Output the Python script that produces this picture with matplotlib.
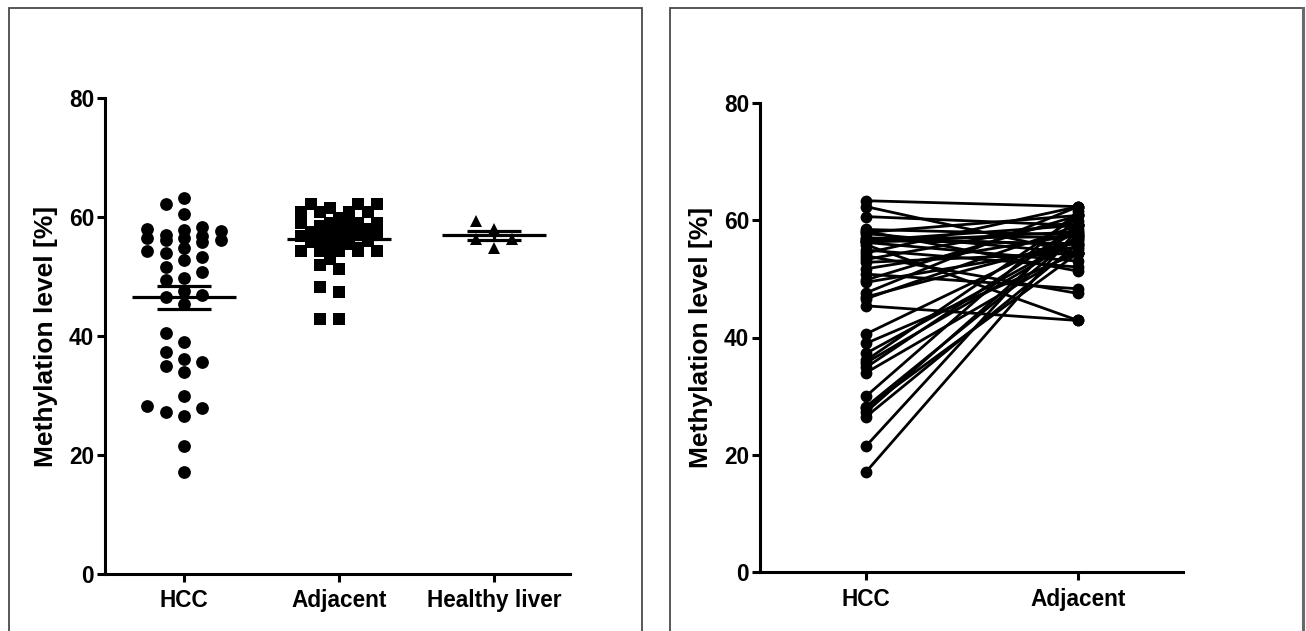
import numpy as np
import matplotlib
matplotlib.use("Agg")
import matplotlib.pyplot as plt
from matplotlib.patches import Rectangle
from matplotlib.lines import Line2D

# ---------------- data (paired: hcc[i] <-> adjacent[i]) ----------------
categories_left = ["HCC", "Adjacent", "Healthy liver"]
categories_right = ["HCC", "Adjacent"]

hcc = [17.1, 21.5, 26.5, 27.3, 28.0, 28.2, 30.0, 34.0, 34.9, 35.7, 36.1, 37.3, 39.0,
       40.6, 45.4, 46.6, 46.9, 47.6, 49.4, 49.8, 50.8, 51.7, 52.8, 53.3, 53.9, 54.4,
       54.9, 55.8, 56.2, 56.2, 56.5, 56.5, 57.7, 57.9, 58.1, 58.4, 60.6, 62.3, 63.3,
       57.0, 56.8]
adjacent = [58.5, 60.8, 56.0, 59.1, 54.4, 57.5, 61.5, 55.0, 59.1, 56.8, 60.8, 57.0, 54.4,
            58.0, 42.9, 59.1, 56.5, 62.3, 55.5, 60.8, 48.3, 57.5, 54.4, 59.8, 47.5, 62.3,
            52.0, 42.9, 58.0, 53.0, 59.1, 56.0, 54.4, 60.8, 51.3, 57.5, 59.1, 54.4, 62.3,
            55.8, 57.2]
healthy = [59.4, 58.0, 56.3, 56.3, 54.9]

yticks = [0, 20, 40, 60, 80]
ylabel = "Methylation level [%]"

# ---------------- figure ----------------
W, H = 1306, 631
fig = plt.figure(figsize=(W / 100, H / 100), dpi=100)
fig.patch.set_facecolor("white")
plt.rcParams["font.family"] = ["Liberation Sans", "DejaVu Sans"]

TICK_FS = 16.3
LAB_FS = 19
SPINE_LW = 2.2


def fx(px):
    return px / W


def fy(py):
    return (H - py) / H


# panel border boxes
for x0, x1 in [(8.5, 642), (670, 1303)]:
    fig.patches.append(Rectangle((fx(x0), -0.05), fx(x1) - fx(x0), fy(7.5) + 0.05,
                                 transform=fig.transFigure, fill=False,
                                 edgecolor="#4a4a4a", lw=1.3, clip_on=False))
fig.lines.append(Line2D([fx(1303), fx(1303)], [-0.05, fy(7.5)], transform=fig.transFigure,
                        color="#6a6a6a", lw=2.2))


def style_axes(ax, xticks, xlabels, xlim, label_x):
    ax.set_xlim(*xlim)
    ax.set_ylim(0, 80)
    for s in ("top", "right"):
        ax.spines[s].set_visible(False)
    for s in ("left", "bottom"):
        ax.spines[s].set_linewidth(SPINE_LW)
        ax.spines[s].set_capstyle("projecting")
    ax.set_yticks(yticks)
    ax.set_yticklabels([str(t) for t in yticks], fontsize=TICK_FS, fontweight="bold")
    ax.set_xticks(xticks)
    ax.set_xticklabels(xlabels, fontsize=TICK_FS, fontweight="bold")
    ax.tick_params(axis="y", direction="out", length=6, width=SPINE_LW, pad=2)
    ax.tick_params(axis="x", direction="out", length=6, width=SPINE_LW, pad=5)
    ax.set_ylabel(ylabel, fontsize=LAB_FS, fontweight="bold")
    ax.yaxis.set_label_coords(label_x, 0.5)
    ax.patch.set_alpha(0)


# ---------------- left panel ----------------
axL = fig.add_axes([fx(105), fy(574), fx(570) - fx(105), fy(98.3) - fy(574)])
style_axes(axL, [0, 1, 2], categories_left, (-0.51, 2.49), -0.10)


def swarm_x(ax, xc, values, thr_px, slot_px, max_slot):
    """Limited-width beeswarm: place each point in the most central slot
    that keeps it at least thr_px away from already placed points."""
    tr = ax.transData
    vals = np.asarray(values, float)
    ypx = tr.transform(np.column_stack([np.full(len(vals), xc), vals]))[:, 1]
    x0 = tr.transform((xc, 0))[0]
    order = np.argsort(vals, kind="stable")
    cands = [0] + [s for j in range(1, max_slot + 1) for s in (-j, j)]
    placed = []
    slots = np.zeros(len(vals))
    for i in order:
        best, best_d = 0, -1.0
        chosen = None
        for s in cands:
            if placed:
                d = min(np.hypot((s - ps) * slot_px, py - ypx[i]) for ps, py in placed)
            else:
                d = np.inf
            if d >= thr_px:
                chosen = s
                break
            if d > best_d:
                best, best_d = s, d
        if chosen is None:
            chosen = best
        placed.append((chosen, ypx[i]))
        slots[i] = chosen
    pts = np.column_stack([x0 + slots * slot_px, ypx])
    return tr.inverted().transform(pts)[:, 0]


groups = [(0, hcc, "o", 9.2, 18.3, 2, 12.0),
          (1, adjacent, "s", 9.0, 9.5, 4, 11.0),
          (2, healthy, "^", 8.8, 18.0, 2, 11.0)]
for xc, vals, mk, ms, slot_px, max_slot, thr in groups:
    xs = swarm_x(axL, xc, vals, thr_px=thr, slot_px=slot_px, max_slot=max_slot)
    axL.plot(xs, vals, linestyle="none", marker=mk, ms=ms, color="black",
             markeredgewidth=0, zorder=3, clip_on=False)
    v = np.asarray(vals, float)
    m = v.mean()
    sem = v.std(ddof=1) / np.sqrt(len(v))
    axL.hlines(m, xc - 0.333, xc + 0.333, color="black", lw=2.3, zorder=4)
    axL.hlines([m - sem, m + sem], xc - 0.173, xc + 0.173, color="black", lw=2.3, zorder=4)
    axL.vlines(xc, m - sem, m + sem, color="black", lw=2.3, zorder=4)

# ---------------- right panel ----------------
axR = fig.add_axes([fx(760), fy(572.3), fx(1183) - fx(760), fy(102.7) - fy(572.3)])
style_axes(axR, [0, 1], categories_right, (-0.5, 1.495), -0.11)

for h, a in zip(hcc, adjacent):
    axR.plot([0, 1], [h, a], color="black", lw=2.0, marker="o", ms=8.5,
             markeredgewidth=0, zorder=3, clip_on=False)

fig.savefig("out.png", dpi=100, facecolor="white")
